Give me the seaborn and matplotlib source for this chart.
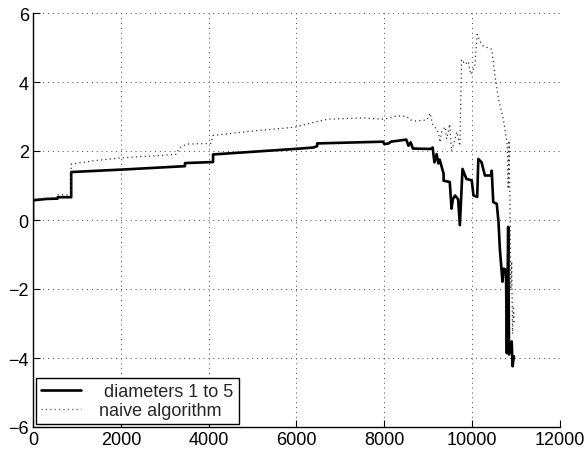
import numpy as np
import pandas as pd
import matplotlib
matplotlib.use("Agg")
import matplotlib.pyplot as plt
import seaborn as sns
from matplotlib.lines import Line2D

# ---- data ----
diam_x = [0, 0, 300, 560, 560, 870, 870, 2000, 3460, 3460, 4100, 4100, 5965, 6380,
          6470, 6470, 7975, 8000, 8100, 8150, 8500, 8550, 8600, 8650, 9050, 9100,
          9140, 9190, 9230, 9260, 9350, 9350, 9490, 9530, 9560, 9610, 9680, 9720,
          9780, 9870, 9990, 10030, 10115, 10140, 10215, 10290, 10445, 10445, 10480,
          10560, 10600, 10630, 10690, 10720, 10770, 10790, 10820, 10840, 10900,
          10920, 10950]
diam_y = [0.0, 0.57, 0.61, 0.62, 0.66, 0.66, 1.39, 1.46, 1.56, 1.65, 1.68, 1.9, 2.06,
          2.1, 2.14, 2.22, 2.27, 2.2, 2.22, 2.27, 2.33, 2.15, 2.25, 2.07, 2.06, 2.1,
          1.67, 1.91, 1.64, 1.75, 1.34, 1.14, 1.1, 0.33, 0.6, 0.71, 0.6, -0.15,
          1.48, 1.19, 1.15, 0.71, 0.67, 1.77, 1.67, 1.29, 1.29, 1.43, 0.52,
          0.47, -0.06, -0.83, -1.79, -1.41, -1.45, -3.86, -0.2, -3.9, -3.52,
          -4.24, -3.95]

naive_x = [0, 0, 300, 560, 560, 870, 870, 1400, 2000, 3250, 3350, 3500, 4050, 4100,
           5000, 5965, 6450, 6700, 7500, 7975, 8100, 8280, 8510, 8600, 8700, 8970,
           9040, 9100, 9150, 9230, 9270, 9300, 9380, 9420, 9490, 9530, 9610, 9650,
           9720, 9760, 9840, 9910, 9965, 10060, 10115, 10180, 10255, 10445, 10520,
           10600, 10710, 10770, 10800, 10820, 10840, 10860, 10870, 10880, 10900,
           10920, 10940, 10960]
naive_y = [0.0, 0.6, 0.63, 0.65, 0.73, 0.73, 1.62, 1.72, 1.8, 1.9, 2.1, 2.2, 2.22, 2.45,
           2.58, 2.69, 2.85, 2.92, 2.96, 2.92, 2.95, 3.02, 3.0, 2.9, 2.87, 2.9,
           3.1, 2.78, 2.7, 2.54, 2.25, 2.54, 2.7, 2.35, 2.78, 2.0, 2.35, 2.55,
           2.15, 4.65, 4.51, 4.6, 4.22, 4.46, 5.38, 5.18, 5.04, 4.95, 4.17,
           3.5, 2.92, 2.44, 2.15, 0.9, 2.3, 0.5, -0.8, -2.0, -1.2, -3.3, -2.5, -3.0]

x_ticks = [0, 2000, 4000, 6000, 8000, 10000, 12000]
y_ticks = [-6, -4, -2, 0, 2, 4, 6]
labels = [" diameters 1 to 5", "naive algorithm"]

df = pd.concat([
    pd.DataFrame({"x": diam_x, "y": diam_y, "series": labels[0]}),
    pd.DataFrame({"x": naive_x, "y": naive_y, "series": labels[1]}),
], ignore_index=True)

sns.set_style("white")
plt.rcParams["font.family"] = ["Liberation Sans", "DejaVu Sans"]

fig = plt.figure(figsize=(5.86, 4.52), dpi=100)
ax = fig.add_axes([33 / 586, 1 - 428 / 452, 527 / 586, 414 / 452])

sns.lineplot(data=df, x="x", y="y", hue="series", style="series",
             palette={labels[0]: "black", labels[1]: "#333333"},
             dashes={labels[0]: "", labels[1]: (1, 2.5)},
             estimator=None, sort=False, ax=ax, legend=False)
lines = ax.get_lines()
lines[0].set_linewidth(1.9)
lines[1].set_linewidth(0.9)

ax.set_xlim(0, 12000)
ax.set_ylim(-6, 6)
ax.set_xticks(x_ticks)
ax.set_yticks(y_ticks)
ax.set_xlabel("")
ax.set_ylabel("")
ax.grid(True, linestyle=(0, (1, 4)), color="#444444", linewidth=0.7)
for s in ["top", "right"]:
    ax.spines[s].set_visible(False)
for s in ["left", "bottom"]:
    ax.spines[s].set_color("black")
    ax.spines[s].set_linewidth(1.0)
ax.tick_params(direction="in", length=5, width=0.8, labelsize=13, colors="black",
               left=True, bottom=True, pad=3)

handles = [Line2D([], [], color="black", lw=1.9),
           Line2D([], [], color="#555555", lw=0.9, linestyle=(0, (1, 2.5)))]
leg = ax.legend(handles, labels, loc="lower left", fontsize=13, frameon=True,
                fancybox=False, edgecolor="black", framealpha=1,
                borderaxespad=0.15, handlelength=2.2, handletextpad=1.0,
                borderpad=0.3, labelspacing=0.1)
leg.get_frame().set_linewidth(1.0)

fig.savefig("out.png", dpi=100)
